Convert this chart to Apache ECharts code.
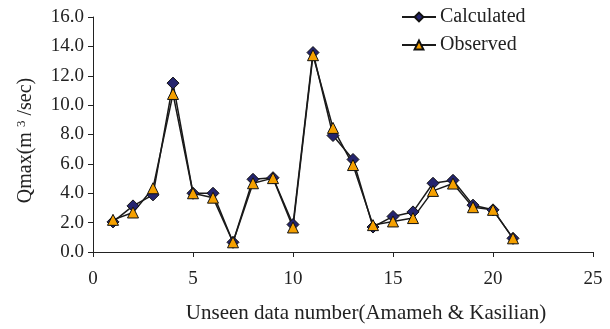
<!DOCTYPE html>
<html>
<head>
<meta charset="utf-8">
<script src="https://cdn.jsdelivr.net/npm/echarts@6/dist/echarts.min.js"></script>
<style>html,body{margin:0;padding:0;background:#fff}#c{width:610px;height:329px}</style>
</head>
<body>
<div id="c"></div>
<script>
var dataNumbers = [1,2,3,4,5,6,7,8,9,10,11,12,13,14,15,16,17,18,19,20,21];
var calculated = [2.05,3.14,3.89,11.5,4.0,4.0,0.66,4.95,5.06,1.87,13.58,7.93,6.3,1.7,2.42,2.73,4.68,4.88,3.19,2.87,0.93];
var observed   = [2.19,2.69,4.34,10.76,4.0,3.7,0.66,4.68,5.03,1.67,13.4,8.45,5.92,1.83,2.08,2.31,4.16,4.66,3.05,2.87,0.93];
var xTicks = [0,5,10,15,20,25];
var yTicks = [0,2,4,6,8,10,12,14,16];

function pairs(vals){ return dataNumbers.map(function(x,i){ return [x, vals[i]]; }); }

var font = 'Liberation Serif, Times New Roman, serif';
var chart = echarts.init(document.getElementById('c'));
chart.setOption({
  animation: false,
  backgroundColor: '#fff',
  textStyle: { fontFamily: font },
  grid: { left: 93, right: 17, top: 17, bottom: 76, containLabel: false },
  legend: {
    orient: 'vertical', left: 401, top: 7, padding: 0,
    itemWidth: 34, itemHeight: 11, itemGap: 8,
    textStyle: { fontFamily: font, fontSize: 20, color: '#222', padding: [0,0,0,-1] },
    data: ['Calculated', 'Observed']
  },
  xAxis: {
    type: 'value', min: xTicks[0], max: xTicks[xTicks.length-1], interval: 5,
    splitLine: { show: false },
    axisLine: { lineStyle: { color: '#222', width: 1 } },
    axisTick: { show: true, length: 5, lineStyle: { color: '#222' } },
    axisLabel: { fontFamily: font, fontSize: 19, color: '#222', margin: 18 },
    name: 'Unseen data number(Amameh & Kasilian)', nameLocation: 'middle', nameGap: 51,
    nameTextStyle: { fontFamily: font, fontSize: 21, color: '#222', padding: [0,0,0,46] }
  },
  yAxis: {
    type: 'value', min: yTicks[0], max: yTicks[yTicks.length-1], interval: 2,
    splitLine: { show: false },
    axisLine: { show: true, lineStyle: { color: '#222', width: 1 } },
    axisTick: { show: true, length: 5, lineStyle: { color: '#222' } },
    axisLabel: { fontFamily: font, fontSize: 19, color: '#222', margin: 9,
      formatter: function(v){ return v.toFixed(1); } },
    name: '{a|Qmax(m }{s|3}{a| /sec)}', nameLocation: 'middle', nameGap: 57, nameRotate: 90,
    nameTextStyle: { fontFamily: font, color: '#222', padding: [0,12,0,0],
      rich: { a: { fontFamily: font, fontSize: 20, color: '#222' },
              s: { fontFamily: font, fontSize: 13, color: '#222', verticalAlign: 'top', padding: [0,0,8,0] } } }
  },
  series: [
    { name: 'Calculated', type: 'line', data: pairs(calculated),
      symbol: 'diamond', symbolSize: 12,
      lineStyle: { color: '#1a1a1a', width: 1.5 },
      itemStyle: { color: '#24246e', borderColor: '#111', borderWidth: 1 } },
    { name: 'Observed', type: 'line', data: pairs(observed),
      symbol: 'triangle', symbolSize: 11,
      lineStyle: { color: '#1a1a1a', width: 1.5 },
      itemStyle: { color: '#f5a000', borderColor: '#111', borderWidth: 1 } }
  ]
});
</script>
</body>
</html>
